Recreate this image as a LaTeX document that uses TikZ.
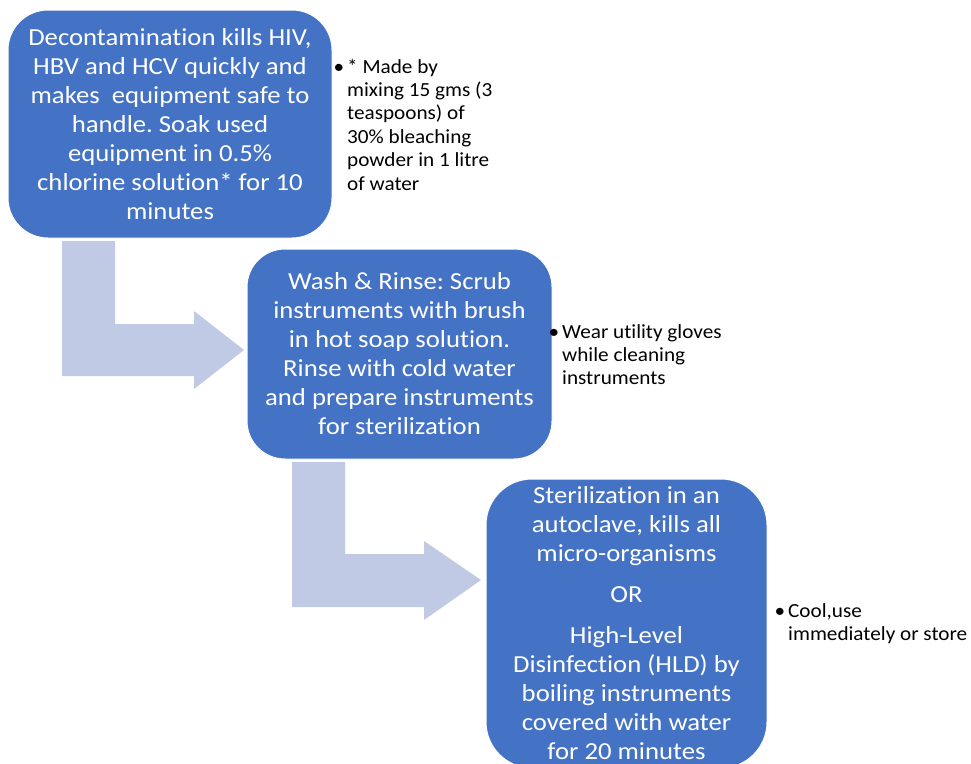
\documentclass[tikz,border=0pt]{standalone}
\usepackage{fontspec}
\setmainfont{Carlito}[FakeStretch=1.09, Ligatures=NoCommon]
\newfontfamily\notefont{Carlito}[FakeStretch=1.06, Ligatures=NoCommon]
\definecolor{boxblue}{HTML}{4472C4}
\definecolor{arrowfill}{RGB}{192,202,228}
\tikzset{
  stepbox/.style={draw=white, line width=1pt, fill=boxblue, text=white, align=center,
    inner sep=0pt, font=\fontsize{24.5}{29}\selectfont},
  bentarrow/.style={fill=arrowfill, draw=none},
  note/.style={anchor=base west, inner sep=0pt, font=\notefont\fontsize{20}{23.4}\selectfont, text=black}
}
\frenchspacing
\begin{document}
\begin{tikzpicture}[x=1pt,y=-1pt]
\useasboundingbox (0,0) rectangle (971,763);
\fill[white] (0,0) rectangle (971,763);
% bent arrows
\path[bentarrow] (62,241) -- (115,241) -- (115,324) -- (194,324) -- (194,311) -- (244,350)
  -- (194,389) -- (194,376) -- (62,376) -- cycle;
\path[bentarrow] (292,462) -- (345,462) -- (345,554) -- (424,554) -- (424,541) -- (481,580)
  -- (424,620) -- (424,607) -- (292,607) -- cycle;
% boxes
\node[stepbox, minimum width=324pt, minimum height=228pt, rounded corners=40pt] (b1) at (170,124)
  {Decontamination kills HIV,\\HBV and HCV quickly and\\makes\ \ equipment safe to\\handle. Soak used\\equipment in 0.5\%\\chlorine solution* for 10\\minutes};
\node[stepbox, minimum width=305pt, minimum height=210pt, rounded corners=38pt] (b2) at (399.5,354)
  {Wash \& Rinse: Scrub\\instruments with brush\\in hot soap solution.\\Rinse with cold water\\and prepare instruments\\for sterilization};
\node[stepbox, minimum width=281pt, minimum height=289pt, rounded corners=46pt] (b3) at (626.5,623.5)
  {Sterilization in an\\autoclave, kills all\\micro-organisms\\[12pt]OR\\[12pt]High-Level\\Disinfection (HLD) by\\boiling instruments\\covered with water\\for 20 minutes};
% notes
\node[note] (n1) at (347,73) {\begin{tabular}[t]{@{}l@{}}\llap{•\hspace{3pt}}* Made by\\mixing 15 gms (3\\teaspoons) of\\30\% bleaching\\powder in 1 litre\\of water\end{tabular}};
\node[note] (n2) at (562,338) {\begin{tabular}[t]{@{}l@{}}\llap{•\hspace{3pt}}Wear utility gloves\\while cleaning\\instruments\end{tabular}};
\node[note] (n3) at (788,617) {\begin{tabular}[t]{@{}l@{}}\llap{•\hspace{3pt}}Cool,use\\immediately or store\end{tabular}};
\end{tikzpicture}
\end{document}
